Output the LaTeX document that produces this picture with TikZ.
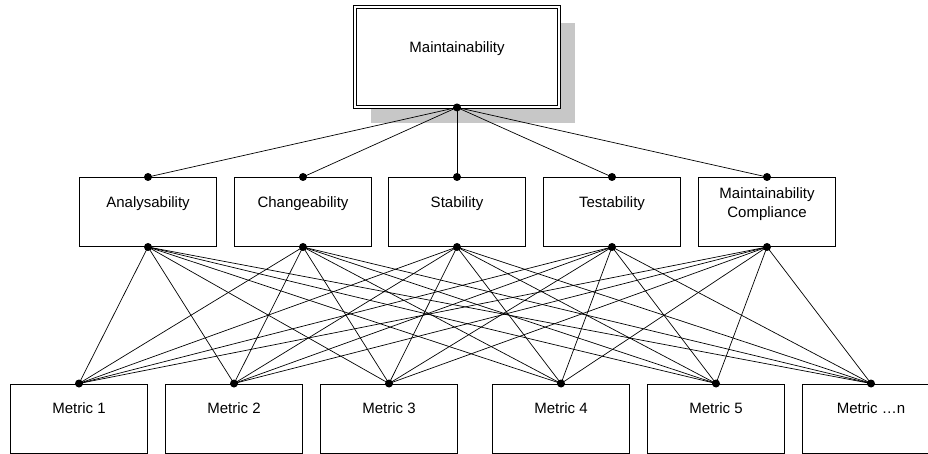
\documentclass[tikz,border=0pt]{standalone}
\usepackage{fontspec}
\setmainfont{Liberation Sans}
\usetikzlibrary{shadows}

\tikzset{
    box/.style={draw, line width=1pt, fill=white, minimum width=137pt, minimum height=69pt,
        font=\fontsize{15}{19}\selectfont, text height=11pt, text depth=20.2pt},
    topbox/.style={box, double, double distance=2.4pt, line width=0.9pt,
        minimum width=204pt, minimum height=100pt,
        drop shadow={shadow xshift=16pt, shadow yshift=-16pt, fill=black!22, opacity=1}},
    link/.style={line width=0.7pt},
    dot/.style={fill=black}
}

\begin{document}
\begin{tikzpicture}[x=1pt, y=-1pt]
    \clip (0,0) rectangle (928,454);

    % characteristic
    \node (main) [topbox] at (457,57) {Maintainability};

    % sub-characteristics
    \node (ana) [box] at (148,212) {Analysability};
    \node (cha) [box] at (303,212) {Changeability};
    \node (sta) [box] at (457,212) {Stability};
    \node (tes) [box] at (612,212) {Testability};
    \node (com) [box, align=center, text height=21pt, text depth=10.2pt] at (767,212) {Maintainability\\Compliance};

    % metrics
    \node (m1) [box] at (79,418.5) {Metric 1};
    \node (m2) [box] at (234,418.5) {Metric 2};
    \node (m3) [box] at (389,418.5) {Metric 3};
    \node (m4) [box] at (561,418.5) {Metric 4};
    \node (m5) [box] at (716,418.5) {Metric 5};
    \node (mn) [box] at (871,418.5) {Metric …n};

    \foreach \s in {ana,cha,sta,tes,com} {
        \draw[link] (main.south) -- (\s.north);
        \foreach \m in {m1,m2,m3,m4,m5,mn}
            \draw[link] (\s.south) -- (\m.north);
    }

    % dots
    \fill[dot] (main.south) circle (4pt);
    \foreach \s in {ana,cha,sta,tes,com} {
        \fill[dot] (\s.north) circle (4pt);
        \fill[dot] (\s.south) circle (4pt);
    }
    \foreach \m in {m1,m2,m3,m4,m5,mn}
        \fill[dot] (\m.north) circle (4pt);
\end{tikzpicture}
\end{document}
